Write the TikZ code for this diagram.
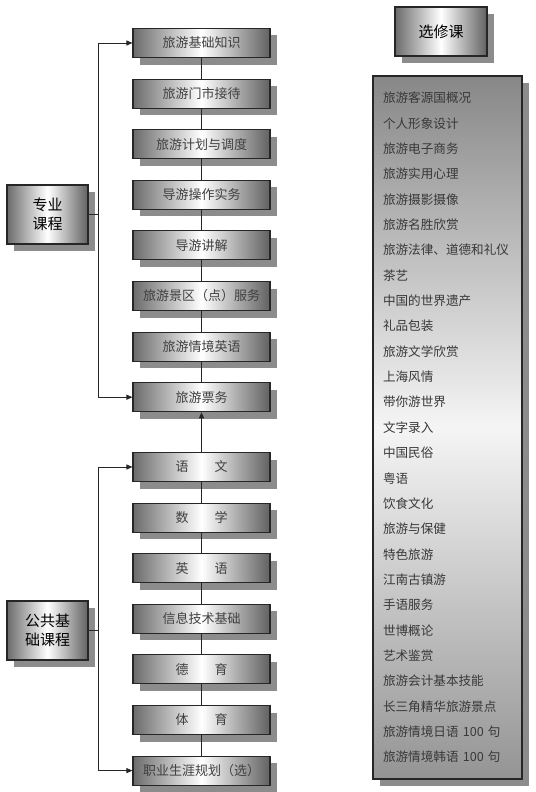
\documentclass[tikz,border=0pt]{standalone}
\usepackage{fontspec}
\newfontfamily\cjk{Noto Sans CJK SC}
\usetikzlibrary{positioning,shadows,arrows.meta}

\begin{document}
\begin{tikzpicture}[x=1bp, y=-1bp,
  node distance=20.5bp,
  course/.style={rectangle, draw=black!85, line width=1.1bp, minimum width=137bp, minimum height=29bp, inner sep=0pt,
    left color=black!58, right color=black!62, middle color=white,
    drop shadow={shadow xshift=7bp, shadow yshift=-7bp, fill=black!45, opacity=1},
    font=\cjk\fontsize{13bp}{15bp}\selectfont, text=black!75},
  group/.style={course, minimum width=81bp, minimum height=59bp, align=center,
    font=\cjk\fontsize{15bp}{19.5bp}\selectfont, text=black},
  link/.style={line width=0.8bp, black!85},
  arrow/.style={link, -{Triangle[length=6bp, width=5bp]}},
]
\useasboundingbox (0,0) rectangle (536,792);

% === Professional courses ===
\node[course] (p1) at (201.5, 43) {旅游基础知识};
\node[course, below=of p1] (p2) {旅游门市接待};
\node[course, below=of p2] (p3) {旅游计划与调度};
\node[course, below=of p3] (p4) {导游操作实务};
\node[course, below=of p4] (p5) {导游讲解};
\node[course, below=of p5] (p6) {旅游景区（点）服务};
\node[course, below=of p6] (p7) {旅游情境英语};
\node[course, below=of p7] (p8) {旅游票务};

% === Public basic courses ===
\node[course] (g1) at (201.5, 467) {语　　文};
\node[course, below=of g1] (g2) {数　　学};
\node[course, below=of g2] (g3) {英　　语};
\node[course, below=of g3] (g4) {信息技术基础};
\node[course, below=of g4] (g5) {德　　育};
\node[course, below=of g5] (g6) {体　　育};
\node[course, below=of g6] (g7) {职业生涯规划（选）};

\foreach \a/\b in {p1/p2, p2/p3, p3/p4, p4/p5, p5/p6, p6/p7, p7/p8,
                   g1/g2, g2/g3, g3/g4, g4/g5, g5/g6, g6/g7}
  \draw[link] (\a) -- (\b);
\draw[arrow] (g1) -- (p8);

% === Groups on the left ===
\node[group] (zy) at (47.5, 214.5) {专业\\课程};
\node[group] (gg) at (47.5, 630.5) {公共基\\础课程};

\draw[link] (zy.east) -- ++(10,0) coordinate (zyJ);
\draw[arrow] (zyJ) |- (p1.west);
\draw[arrow] (zyJ) |- (p8.west);

\draw[link] (gg.east) -- ++(10,0) coordinate (ggJ);
\draw[arrow] (ggJ) |- (g1.west);
\draw[arrow] (ggJ) |- (g7.west);

% === Electives ===
\node[group, minimum width=92bp, minimum height=49bp] (xx) at (441, 31.5) {选修课};

\node[rectangle, draw=black!85, line width=1.1bp, top color=black!47, bottom color=black!42, middle color=black!4,
  drop shadow={shadow xshift=7bp, shadow yshift=-7bp, fill=black!45, opacity=1},
  text width=129bp, inner xsep=10bp, inner ysep=0pt, minimum height=703bp, align=left,
  font=\cjk\fontsize{12.6bp}{25.35bp}\selectfont, text=black!78] (xl) at (447.5, 427.5)
  {旅游客源国概况\\个人形象设计\\旅游电子商务\\旅游实用心理\\旅游摄影摄像\\旅游名胜欣赏\\
   旅游法律、道德和礼仪\\茶艺\\中国的世界遗产\\礼品包装\\旅游文学欣赏\\上海风情\\
   带你游世界\\文字录入\\中国民俗\\粤语\\饮食文化\\旅游与保健\\特色旅游\\江南古镇游\\
   手语服务\\世博概论\\艺术鉴赏\\旅游会计基本技能\\长三角精华旅游景点\\
   旅游情境日语 100 句\\旅游情境韩语 100 句};

\end{tikzpicture}
\end{document}
